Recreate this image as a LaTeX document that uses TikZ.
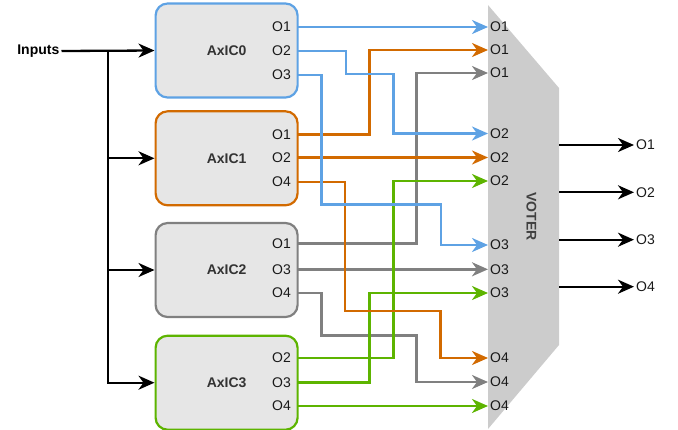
\documentclass[tikz,border=0pt]{standalone}
\usepackage{fontspec}
\setmainfont{Liberation Sans}
\usetikzlibrary{arrows.meta}
\definecolor{cblue}{HTML}{5EA2E4}
\definecolor{corange}{HTML}{D26A00}
\definecolor{cgray}{HTML}{808080}
\definecolor{cgreen}{HTML}{5DB400}
\definecolor{boxfill}{HTML}{E6E6E6}
\definecolor{voterfill}{HTML}{CCCCCC}
\tikzset{
  axbox/.style={draw=#1, fill=boxfill, line width=2.2pt, rounded corners=12pt,
    minimum width=142pt, minimum height=94pt, font=\fontsize{14}{15}\selectfont\bfseries, text=black!80},
  plabel/.style={anchor=east, inner sep=2pt, font=\fontsize{14}{15}\selectfont, text=black!90},
  vlabel/.style={anchor=west, inner sep=2pt, font=\fontsize{14}{15}\selectfont, text=black!90},
  olabel/.style={anchor=west, inner sep=2pt, font=\fontsize{14}{15}\selectfont, text=black!90},
  wire/.style={draw=#1, line width=2.6pt, -{Stealth[length=16pt,width=14pt,inset=5pt]}},
  blk/.style={draw=black, line width=2.3pt},
  blkarrow/.style={blk, -{Stealth[length=16pt,width=14pt,inset=5pt]}},
}
\begin{document}
\begin{tikzpicture}[x=1pt,y=-1pt]
\useasboundingbox (0,0) rectangle (678,429);

% voter shape
\fill[voterfill] (488,5) -- (559,88) -- (559,345) -- (488,429) -- cycle;
\node[rotate=-90, font=\fontsize{14}{15}\selectfont\bfseries, text=black!75] (voter) at (531.5,216.5) {VOTER};

% boxes
\node[axbox=cblue] (a0) at (226.6,50.5) {AxIC0};
\node[axbox=corange] (a1) at (226.6,158.3) {AxIC1};
\node[axbox=cgray] (a2) at (226.6,270) {AxIC2};
\node[axbox=cgreen] (a3) at (226.6,382.7) {AxIC3};

% box port labels
\node[plabel] (a0p1) at (293,27) {O1};
\node[plabel] (a0p2) at (293,51) {O2};
\node[plabel] (a0p3) at (293,75) {O3};
\node[plabel] (a1p1) at (293,134.3) {O1};
\node[plabel] (a1p2) at (293,157.5) {O2};
\node[plabel] (a1p4) at (293,182) {O4};
\node[plabel] (a2p1) at (293,243.5) {O1};
\node[plabel] (a2p3) at (293,269.3) {O3};
\node[plabel] (a2p4) at (293,293) {O4};
\node[plabel] (a3p2) at (293,358) {O2};
\node[plabel] (a3p3) at (293,382.5) {O3};
\node[plabel] (a3p4) at (293,406) {O4};

% port coordinates on box edges
\coordinate (b01) at (297.7,27);
\coordinate (b02) at (297.7,51);
\coordinate (b03) at (297.7,75);
\coordinate (b11) at (297.7,134.3);
\coordinate (b12) at (297.7,157.5);
\coordinate (b14) at (297.7,182);
\coordinate (b21) at (297.7,243.5);
\coordinate (b23) at (297.7,269.3);
\coordinate (b24) at (297.7,293);
\coordinate (b32) at (297.7,358);
\coordinate (b33) at (297.7,382.5);
\coordinate (b34) at (297.7,406);

% voter input labels
\node[vlabel] (v1a) at (488,27) {O1};
\node[vlabel] (v1b) at (488,50) {O1};
\node[vlabel] (v1c) at (488,73) {O1};
\node[vlabel] (v2a) at (488,133.5) {O2};
\node[vlabel] (v2b) at (488,157.5) {O2};
\node[vlabel] (v2c) at (488,181) {O2};
\node[vlabel] (v3a) at (488,245) {O3};
\node[vlabel] (v3b) at (488,269.3) {O3};
\node[vlabel] (v3c) at (488,293) {O3};
\node[vlabel] (v4a) at (488,358) {O4};
\node[vlabel] (v4b) at (488,382) {O4};
\node[vlabel] (v4c) at (488,406) {O4};

% inputs
\node[font=\fontsize{14}{15}\selectfont\bfseries, anchor=east, inner sep=2pt] (inputs) at (61.5,51) {Inputs};
\coordinate (trunk) at (108.3,51);
\draw[blkarrow] (inputs.east) -- (a0.west);
\draw[blk] (trunk) -- (108.3,382.7);
\draw[blkarrow] (trunk) |- (a1.west);
\draw[blkarrow] (trunk) |- (a2.west);
\draw[blkarrow] (trunk) |- (a3.west);

% voter outputs
\coordinate (vo1) at (559,145);
\coordinate (vo2) at (559,192.3);
\coordinate (vo3) at (559,239.7);
\coordinate (vo4) at (559,286.7);
\node[olabel] (o1) at (634,145) {O1};
\node[olabel] (o2) at (634,192.3) {O2};
\node[olabel] (o3) at (634,239.7) {O3};
\node[olabel] (o4) at (634,286.7) {O4};
\draw[blkarrow] (vo1) -- (o1.west);
\draw[blkarrow] (vo2) -- (o2.west);
\draw[blkarrow] (vo3) -- (o3.west);
\draw[blkarrow] (vo4) -- (o4.west);

% gray wires
\draw[wire=cgray] (b21) -- (416.7,243.5) -- (416.7,73) -- (v1c.west);
\draw[wire=cgray] (b23) -- (v3b.west);
\draw[wire=cgray] (b24) -- (321.7,293) -- (321.7,335.3) -- (416.7,335.3) -- (416.7,382) -- (v4b.west);

% green wires
\draw[wire=cgreen] (b32) -- (393.3,358) -- (393.3,181) -- (v2c.west);
\draw[wire=cgreen] (b33) -- (369.3,382.5) -- (369.3,293) -- (v3c.west);
\draw[wire=cgreen] (b34) -- (v4c.west);

% orange wires
\draw[wire=corange] (b11) -- (369.3,134.3) -- (369.3,50) -- (v1b.west);
\draw[wire=corange] (b12) -- (v2b.west);
\draw[wire=corange] (b14) -- (345,182) -- (345,311) -- (440.5,311) -- (440.5,358) -- (v4a.west);

% blue wires
\draw[wire=cblue] (b01) -- (v1a.west);
\draw[wire=cblue] (b02) -- (346,51) -- (346,74) -- (393.3,74) -- (393.3,133.5) -- (v2a.west);
\draw[wire=cblue] (b03) -- (321.7,75) -- (321.7,204.3) -- (441,204.3) -- (441,245) -- (v3a.west);
\end{tikzpicture}
\end{document}
